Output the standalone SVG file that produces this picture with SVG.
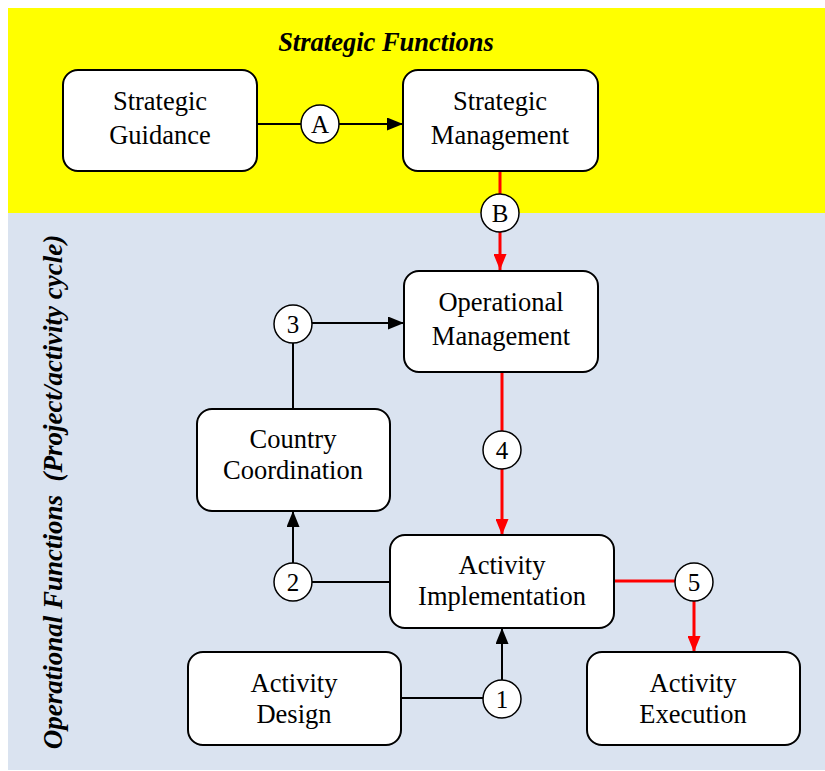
<svg xmlns="http://www.w3.org/2000/svg" width="825" height="771" viewBox="0 0 825 771">
<defs>
<marker id="ab" viewBox="0 0 16 13" refX="16" refY="6.5" markerWidth="16" markerHeight="13" markerUnits="userSpaceOnUse" orient="auto"><path d="M0,0 L16,6.5 L0,13 Z" fill="#000"/></marker>
<marker id="ar" viewBox="0 0 16 13" refX="16" refY="6.5" markerWidth="16" markerHeight="13" markerUnits="userSpaceOnUse" orient="auto"><path d="M0,0 L16,6.5 L0,13 Z" fill="#FF0000"/></marker>
</defs>
<style>
.box{fill:#fff;stroke:#000;stroke-width:2}
.t{font-family:"Liberation Serif","Times New Roman",serif;font-size:26.5px;text-anchor:middle;fill:#000}
.n{font-family:"Liberation Serif","Times New Roman",serif;font-size:25px;text-anchor:middle;fill:#000}
.h{font-family:"Liberation Serif","Times New Roman",serif;font-size:26.5px;font-weight:bold;font-style:italic;fill:#000}
.c{fill:#fff;stroke:#000;stroke-width:1.5}
.bl{fill:none;stroke:#000;stroke-width:2}
.rd{fill:none;stroke:#FF0000;stroke-width:3}
</style>
<rect x="8" y="8" width="817" height="205" fill="#FFFF00"/>
<rect x="8" y="213" width="817" height="557" fill="#DAE3F0"/>
<text class="h" x="386" y="51" text-anchor="middle">Strategic Functions</text>
<text class="h" transform="translate(62,492) rotate(-90)" text-anchor="middle" xml:space="preserve" style="font-size:27px">Operational Functions  (Project/activity cycle)</text>
<g id="connectors">
<line class="bl" x1="257" y1="124" x2="403" y2="124" marker-end="url(#ab)"/>
<line class="rd" x1="500" y1="171" x2="500" y2="270" marker-end="url(#ar)"/>
<line class="bl" x1="293" y1="409" x2="293" y2="323"/>
<line class="bl" x1="293" y1="323" x2="404" y2="323" marker-end="url(#ab)"/>
<line class="bl" x1="389" y1="582" x2="293" y2="582"/>
<line class="bl" x1="293" y1="582" x2="293" y2="511" marker-end="url(#ab)"/>
<line class="rd" x1="502" y1="372" x2="502" y2="535" marker-end="url(#ar)"/>
<polyline class="rd" points="614,581 694,581 694,652" marker-end="url(#ar)"/>
<polyline class="bl" points="401,698 502,698 502,628" marker-end="url(#ab)"/>
</g>
<g id="circles">
<circle class="c" cx="320" cy="124" r="19"/><text class="n" x="320" y="133">A</text>
<circle class="c" cx="500" cy="213" r="19"/><text class="n" x="500" y="222">B</text>
<circle class="c" cx="293" cy="324" r="19"/><text class="n" x="293" y="333">3</text>
<circle class="c" cx="502" cy="450" r="19"/><text class="n" x="502" y="459">4</text>
<circle class="c" cx="293" cy="582" r="19"/><text class="n" x="293" y="591">2</text>
<circle class="c" cx="694" cy="582" r="19"/><text class="n" x="694" y="591">5</text>
<circle class="c" cx="502" cy="699" r="19"/><text class="n" x="502" y="708">1</text>
</g>
<g id="strategic-guidance"><rect class="box" x="63" y="70" width="194" height="101" rx="15"/><text class="t" x="160" y="110">Strategic</text><text class="t" x="160" y="144">Guidance</text></g>
<g id="strategic-management"><rect class="box" x="403" y="70" width="195" height="101" rx="15"/><text class="t" x="500" y="110">Strategic</text><text class="t" x="500" y="144">Management</text></g>
<g id="operational-management"><rect class="box" x="404" y="271" width="194" height="101" rx="15"/><text class="t" x="501" y="311">Operational</text><text class="t" x="501" y="345">Management</text></g>
<g id="country-coordination"><rect class="box" x="197" y="409" width="193" height="102" rx="15"/><text class="t" x="293" y="448">Country</text><text class="t" x="293" y="479">Coordination</text></g>
<g id="activity-implementation"><rect class="box" x="390" y="535" width="224" height="93" rx="15"/><text class="t" x="502" y="574">Activity</text><text class="t" x="502" y="605">Implementation</text></g>
<g id="activity-design"><rect class="box" x="188" y="652" width="213" height="93" rx="15"/><text class="t" x="294" y="692">Activity</text><text class="t" x="294" y="723">Design</text></g>
<g id="activity-execution"><rect class="box" x="587" y="652" width="213" height="93" rx="15"/><text class="t" x="693" y="692">Activity</text><text class="t" x="693" y="723">Execution</text></g>
</svg>
